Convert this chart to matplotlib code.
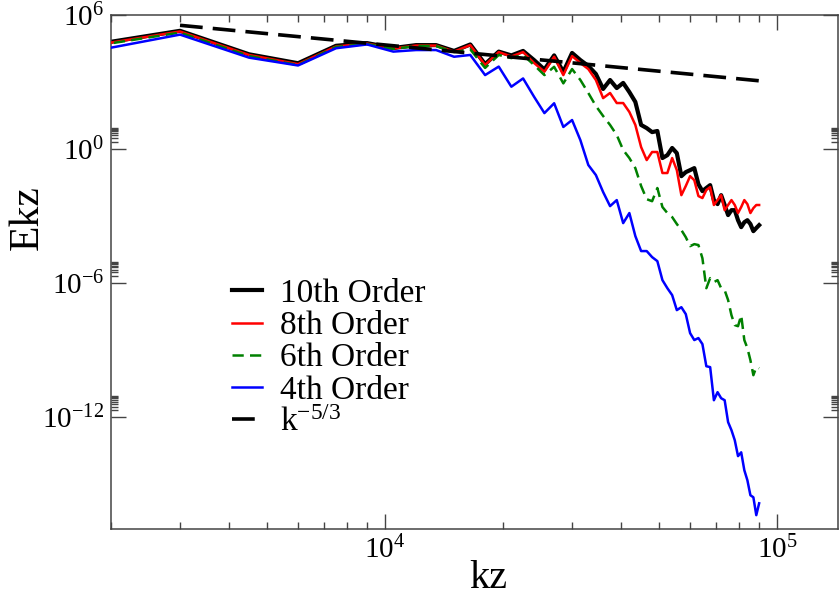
import numpy as np
import matplotlib
matplotlib.use("Agg")
import matplotlib.pyplot as plt
from matplotlib.ticker import FixedLocator, FuncFormatter, NullFormatter

plt.rcParams["font.family"] = "Liberation Serif"
plt.rcParams["mathtext.fontset"] = "custom"
plt.rcParams["mathtext.rm"] = "Liberation Serif"
plt.rcParams["mathtext.it"] = "Liberation Serif:italic"
plt.rcParams["mathtext.default"] = "regular"

# wavenumber grid (kz = n * dk, n = 1..60)
dk = 1500.0
kz = dk * np.arange(1, 61)

# log10(Ekz), one value per kz
log_e10 = [4.44, 5.28, 4.23, 3.83, 4.61, 4.73, 4.51, 4.64, 4.64, 4.38,
           4.67, 3.79, 4.35, 4.18, 4.38, 3.97, 3.55, 4.18, 3.44, 4.29,
           3.97, 3.71, 3.35, 2.68, 3.08, 2.72, 2.95, 2.54, 2.10, 1.07,
           0.93, 0.75, 0.80, -0.41, -0.28, 0.04, -0.19, -1.22, -1.04, -0.95,
           -0.86, -1.58, -1.89, -1.75, -1.62, -2.29, -2.47, -2.07, -2.51, -2.96,
           -2.74, -2.74, -3.19, -3.50, -3.28, -3.19, -3.36, -3.68, -3.54, -3.41]
log_e8 = [4.40, 5.25, 4.20, 3.79, 4.58, 4.71, 4.49, 4.62, 4.62, 4.35,
          4.64, 3.75, 4.33, 4.13, 4.33, 3.84, 3.45, 4.12, 3.30, 4.15,
          3.84, 3.57, 3.08, 2.27, 2.50, 2.05, 2.05, 1.65, 1.07, 0.08,
          -0.50, -0.14, -0.14, -1.08, -1.08, -0.41, -0.95, -2.07, -1.66, -1.22,
          -1.40, -2.11, -2.20, -1.84, -1.71, -2.51, -2.29, -2.07, -2.74, -2.51,
          -2.29, -2.51, -2.87, -2.60, -2.29, -2.47, -2.87, -2.65, -2.51, -2.51]
log_e6 = [4.38, 5.20, 4.15, 3.75, 4.56, 4.69, 4.47, 4.60, 4.60, 4.33,
          4.45, 3.62, 4.20, 4.06, 4.20, 3.75, 3.30, 3.67, 2.93, 3.57,
          3.08, 2.50, 1.92, 1.47, 1.07, 0.62, -0.05, -0.41, -0.86, -1.66,
          -2.25, -2.34, -1.75, -2.60, -2.87, -3.05, -3.36, -3.63, -3.95, -4.35,
          -4.26, -4.30, -4.89, -6.23, -5.78, -5.96, -5.87, -6.23, -6.32, -6.76,
          -7.44, -7.88, -7.93, -7.44, -8.55, -8.91, -9.45, -10.12, -9.76, -9.81]
log_e4 = [4.11, 5.11, 4.08, 3.73, 4.50, 4.67, 4.35, 4.42, 4.42, 4.12,
          4.20, 3.30, 3.68, 2.78, 3.15, 2.33, 1.60, 2.04, 0.98, 1.29,
          0.39, -0.72, -1.17, -1.93, -2.56, -2.29, -3.32, -2.87, -3.90, -4.57,
          -4.57, -4.84, -5.02, -5.87, -6.23, -6.54, -7.21, -7.08, -7.39, -8.24,
          -8.55, -8.46, -8.73, -9.72, -9.76, -11.24, -10.88, -11.15, -11.24, -12.22,
          -12.58, -13.03, -13.74, -13.57, -14.37, -14.82, -15.49, -15.58, -16.38, -15.85]

# k^-5/3 reference line (end points)
kz_ref = [3000.0, 90000.0]
e_ref = [3.36e5, 1.11e3]

fig = plt.figure(figsize=(8.4, 6.13), dpi=100)
ax = fig.add_axes([0.1321, 0.137, 0.8655, 0.839])

ax.plot(kz, 10.0 ** np.array(log_e10), color="black", lw=3.0, label="10th Order", zorder=2)
ax.plot(kz, 10.0 ** np.array(log_e8), color="red", lw=1.8, label="8th Order", zorder=3)
ax.plot(kz, 10.0 ** np.array(log_e6), color="green", lw=1.8, dashes=(4.5, 2.5),
        label="6th Order", zorder=4)
ax.plot(kz, 10.0 ** np.array(log_e4), color="blue", lw=1.8, label="4th Order", zorder=5)
ax.plot(kz_ref, e_ref, color="black", lw=2.6, dashes=(6.3, 2.8),
        label=r"k$^{-5/3}$", zorder=6)

ax.set_xscale("log")
ax.set_yscale("log")
ax.set_xlim(2000, 1.43e5)
ax.set_ylim(1e-17, 1e6)

ax.xaxis.set_major_locator(FixedLocator([1e4, 1e5]))
ax.xaxis.set_minor_locator(FixedLocator([m * 10.0 ** e for e in (3, 4) for m in range(2, 10)]))
ax.yaxis.set_major_locator(FixedLocator([1e-12, 1e-6, 1.0, 1e6]))
ax.yaxis.set_minor_locator(FixedLocator([m * 10.0 ** e for e in (-12, -6, 0) for m in range(2, 10)]))

fmt = FuncFormatter(lambda v, pos: r"$10^{%d}$" % int(round(np.log10(v))))
ax.xaxis.set_major_formatter(fmt)
ax.yaxis.set_major_formatter(fmt)
ax.xaxis.set_minor_formatter(NullFormatter())
ax.yaxis.set_minor_formatter(NullFormatter())

axis_grey = "#444444"
ax.tick_params(which="both", direction="in", top=True, right=True,
               color=axis_grey, width=1.0, labelsize=21)
ax.tick_params(which="major", length=10.8, pad=5)
ax.tick_params(which="minor", length=5)
for s in ax.spines.values():
    s.set_color(axis_grey)
    s.set_linewidth(1.1)

ax.set_xlabel("kz", fontsize=29)
ax.set_ylabel("Ekz", fontsize=30)
ax.xaxis.set_label_coords(0.519, -0.06)
ax.yaxis.set_label_coords(-0.088, 0.605)

ax.legend(loc="upper left", bbox_to_anchor=(0.166, 0.487), frameon=False,
          fontsize=24, handlelength=0.9, handletextpad=0.55, labelspacing=0.05,
          borderpad=0, borderaxespad=0)

fig.savefig("out.png", dpi=100)
